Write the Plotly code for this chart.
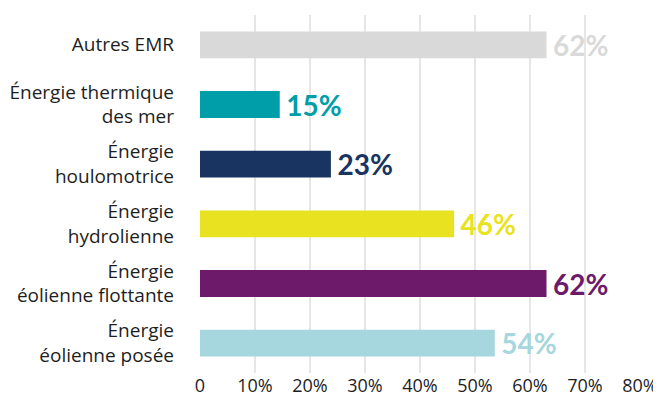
import plotly.graph_objects as go

categories = ["Autres EMR", "Énergie thermique<br>des mer", "Énergie<br>houlomotrice",
              "Énergie<br>hydrolienne", "Énergie<br>éolienne flottante", "Énergie<br>éolienne posée"]
bar_values = [63, 14.5, 23.8, 46.2, 63, 53.6]
value_labels = ["62%", "15%", "23%", "46%", "62%", "54%"]
colors = ["#d9d9d9", "#009ea8", "#1a3461", "#e8e220", "#6e1a6b", "#a7d7de"]
tick_values = [0, 10, 20, 30, 40, 50, 60, 70, 80]
tick_labels = ["0", "10%", "20%", "30%", "40%", "50%", "60%", "70%", "80%"]

fig = go.Figure(go.Bar(
    x=bar_values,
    y=categories,
    orientation="h",
    marker=dict(color=colors, line=dict(width=0)),
    width=0.45,
    text=["\u2009" + t for t in value_labels],
    textposition="outside",
    textfont=dict(family="Lato", size=28, color=colors, weight="bold"),
    constraintext="none",
    cliponaxis=False,
    hoverinfo="skip",
))

fig.update_layout(
    width=653, height=393,
    margin=dict(l=192, r=21, t=7, b=28),
    paper_bgcolor="white", plot_bgcolor="white",
    showlegend=False,
    font=dict(family="Open Sans", size=19, color="#1e1e1e"),
    xaxis=dict(range=[0, 80], tickvals=tick_values, ticktext=tick_labels,
               showgrid=True, gridcolor="#e6e6e6", gridwidth=2,
               zeroline=False, showline=False, automargin=False,
               tickfont=dict(family="Open Sans", size=18, color="#1e1e1e")),
    yaxis=dict(autorange="reversed", showgrid=False, zeroline=False, showline=False,
               automargin=False, ticklabelstandoff=25,
               tickfont=dict(family="Open Sans", size=19, color="#1e1e1e")),
)

fig.write_html("out.html")
